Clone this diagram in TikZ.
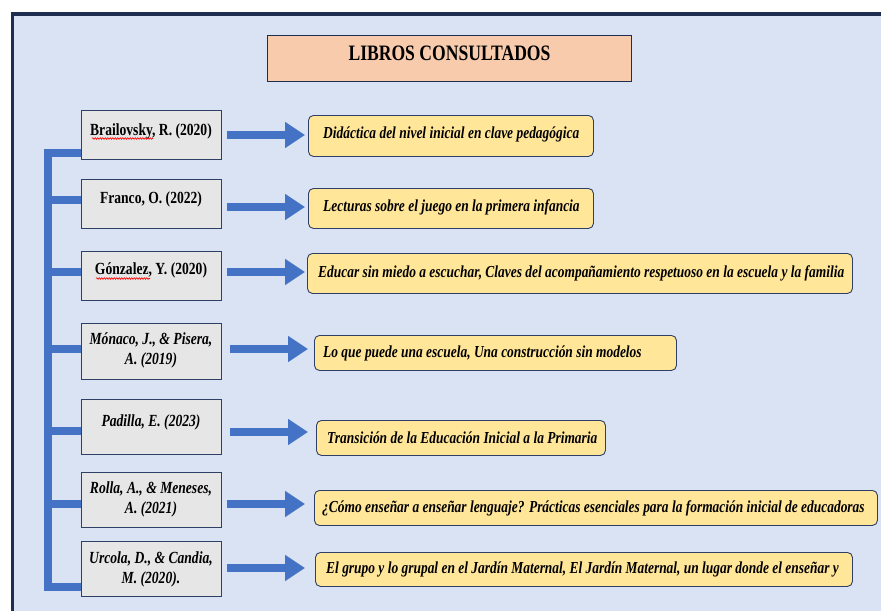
\documentclass[tikz,border=0pt]{standalone}
\usepackage{fontspec}
\setmainfont{Liberation Serif}[FakeStretch=0.8]
\usetikzlibrary{arrows.meta,decorations.pathmorphing}
\definecolor{bgblue}{HTML}{DAE3F3}
\definecolor{navy}{HTML}{1F2D50}
\definecolor{boxline}{HTML}{2F3F66}
\definecolor{greybox}{HTML}{E7E6E6}
\definecolor{yellowbox}{HTML}{FFE699}
\definecolor{peach}{HTML}{F8CBAD}
\definecolor{arrowblue}{HTML}{4472C4}
\begin{document}
\begin{tikzpicture}[x=1pt,y=-1pt,
  authorbox/.style={draw=boxline,line width=0.9pt,fill=greybox,minimum width=140pt,minimum height=#1,anchor=north west,inner sep=0pt},
  bookbox/.style 2 args={draw=boxline,line width=0.9pt,fill=yellowbox,rounded corners=5pt,minimum width=#1,minimum height=#2,anchor=north west,inner sep=0pt},
  authortext/.style={inner sep=0pt,align=center,font=\fontsize{17}{20}\selectfont\bfseries},
  authoritext/.style={inner sep=0pt,align=center,font=\fontsize{17}{20}\selectfont\bfseries\itshape},
  booktext/.style={inner sep=0pt,anchor=west,font=\fontsize{16.8}{20}\selectfont\bfseries\itshape},
  barrow/.style={draw=arrowblue,line width=8pt,-{Triangle[length=20pt,width=25pt]},arrowblue},
  bracket/.style={draw=arrowblue,line width=8pt,line join=miter,line cap=butt},
  wavy/.style={draw=red,line width=0.6pt,decorate,decoration={snake,amplitude=0.8pt,segment length=2.5pt}}]
\useasboundingbox (0,0) rectangle (881,611);
% background panel
\fill[bgblue] (11,12) rectangle (881,611);
\draw[navy,line width=3.5pt] (12.5,611) -- (12.5,14) -- (881,14);
% title
\node[draw=navy,line width=1pt,fill=peach,minimum width=364pt,minimum height=46pt,anchor=north west,inner sep=0pt] (title) at (267,35) {};
\node[inner sep=0pt,font=\fontsize{22}{24}\selectfont\bfseries] (titletxt) at ([yshift=5pt]title.center) {LIBROS CONSULTADOS};
% author boxes
\node[authorbox=49pt] (l1) at (81,110) {};
\node[authorbox=49pt] (l2) at (81,179) {};
\node[authorbox=49pt] (l3) at (81,251) {};
\node[authorbox=56pt] (l4) at (81,323) {};
\node[authorbox=55pt] (l5) at (81,399) {};
\node[authorbox=55pt] (l6) at (81,472) {};
\node[authorbox=55pt] (l7) at (81,541) {};
\node[authortext] (t1) at (151,131) {Brailovsky, R. (2020)};
\node[authortext] (t2) at (151,199) {Franco, O. (2022)};
\node[authortext] (t3) at (151,270) {Gónzalez, Y. (2020)};
\node[authoritext] (t4) at (151,350) {Mónaco, J., \& Pisera,\\A. (2019)};
\node[authoritext] (t5) at (151,422) {Padilla, E. (2023)};
\node[authoritext] (t6) at (151,499.5) {Rolla, A., \& Meneses,\\A. (2021)};
\node[authoritext] (t7) at (151,569.5) {Urcola, D., \& Candia,\\M. (2020).};
\draw[wavy] (92,138.5) -- (153,138.5);
\draw[wavy] (96,278.5) -- (150,278.5);
% book boxes
\node[bookbox={285pt}{41pt}] (r1) at (308,115) {};
\node[bookbox={285pt}{40pt}] (r2) at (308,188) {};
\node[bookbox={545pt}{40pt}] (r3) at (307,253) {};
\node[bookbox={362pt}{35pt}] (r4) at (314,335) {};
\node[bookbox={289pt}{35pt}] (r5) at (316,420) {};
\node[bookbox={563pt}{35pt}] (r6) at (314,490) {};
\node[bookbox={537pt}{34pt}] (r7) at (315,552) {};
\node[booktext] (b1) at ([xshift=15pt,yshift=1.5pt]r1.west) {Didáctica del nivel inicial en clave pedagógica};
\node[booktext] (b2) at ([xshift=15pt,yshift=1pt]r2.west) {Lecturas sobre el juego en la primera infancia};
\node[booktext] (b3) at ([xshift=11pt]r3.west) {Educar sin miedo a escuchar, Claves del acompañamiento respetuoso en la escuela y la familia};
\node[booktext] (b4) at ([xshift=9pt]r4.west) {Lo que puede una escuela, Una construcción sin modelos};
\node[booktext] (b5) at ([xshift=11pt]r5.west) {Transición de la Educación Inicial a la Primaria};
\node[booktext] (b6) at ([xshift=8pt]r6.west) {¿Cómo enseñar a enseñar lenguaje? Prácticas esenciales para la formación inicial de educadoras};
\node[booktext] (b7) at ([xshift=11pt]r7.west) {El grupo y lo grupal en el Jardín Maternal, El Jardín Maternal, un lugar donde el enseñar y};
% arrows
\draw[barrow] ([xshift=5pt]l1.east |- 0,135) -- ([xshift=-3pt]r1.west |- 0,135);
\draw[barrow] ([xshift=5pt]l2.east |- 0,207) -- ([xshift=-3pt]r2.west |- 0,207);
\draw[barrow] ([xshift=5pt]l3.east |- 0,272) -- ([xshift=-2pt]r3.west |- 0,272);
\draw[barrow] ([xshift=8pt]l4.east |- 0,349) -- ([xshift=-6pt]r4.west |- 0,349);
\draw[barrow] ([xshift=8pt]l5.east |- 0,432) -- ([xshift=-8pt]r5.west |- 0,432);
\draw[barrow] ([xshift=5pt]l6.east |- 0,504) -- ([xshift=-9pt]r6.west |- 0,504);
\draw[barrow] ([xshift=5pt]l7.east |- 0,568) -- ([xshift=-10pt]r7.west |- 0,568);
% bracket
\draw[bracket] (l1.west |- 0,152.5) -- (48,152.5) -- (48,586.5) -- (l7.west |- 0,586.5);
\draw[bracket] (48,200) -- (l2.west |- 0,200);
\draw[bracket] (48,271.5) -- (l3.west |- 0,271.5);
\draw[bracket] (48,349) -- (l4.west |- 0,349);
\draw[bracket] (48,431) -- (l5.west |- 0,431);
\draw[bracket] (48,504) -- (l6.west |- 0,504);
\end{tikzpicture}
\end{document}
